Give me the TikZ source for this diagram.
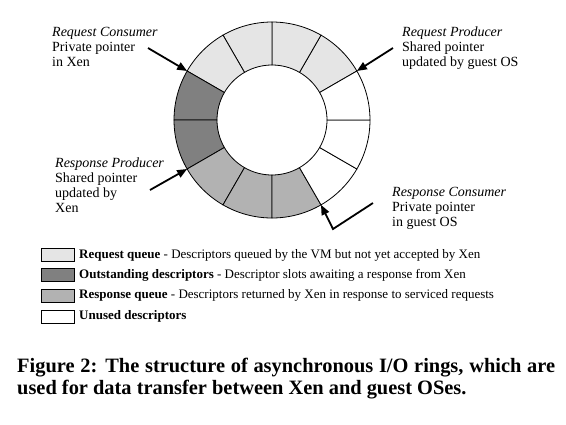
\documentclass[tikz,border=0pt]{standalone}
\usepackage{fontspec}
\setmainfont{Liberation Serif}
\usetikzlibrary{arrows.meta,calc}
\definecolor{reqc}{gray}{0.9}
\definecolor{outc}{gray}{0.5}
\definecolor{rspc}{gray}{0.7}
\begin{document}
\begin{tikzpicture}[x=1pt,y=1pt,
  lbl/.style={align=left, inner sep=0pt, anchor=north west, font=\fontsize{14}{15}\selectfont},
  ptr/.style={line width=1.8pt, -{Triangle[length=10pt,width=8pt]}},
  seg/.style={draw=black, line width=0.8pt},
  keybox/.style={draw=black, line width=0.8pt, minimum width=33pt, minimum height=13pt, inner sep=0pt},
  keytxt/.style={anchor=west, inner sep=0pt, font=\fontsize{13}{15}\selectfont}]
\useasboundingbox (0,0) rectangle (566,-424);
\coordinate (C) at (272,-120);
\foreach \a/\c in {30/reqc,60/reqc,90/reqc,120/reqc,150/outc,180/outc,210/rspc,240/rspc,270/rspc,300/white,330/white,0/white}
  \filldraw[seg, fill=\c] ([shift={(\a:98)}]C) arc[start angle=\a, delta angle=30, radius=98pt]
    -- ([shift={(\a+30:55)}]C) arc[start angle=\a+30, delta angle=-30, radius=55pt] -- cycle;
% pointer tips on the ring
\coordinate (rcTip) at ([shift={(150:98)}]C);
\coordinate (rpTip) at ([shift={(30:98)}]C);
\coordinate (spTip) at ([shift={(210:98)}]C);
\coordinate (scTip) at ([shift={(300:98)}]C);
\coordinate (rcStart) at (148,-48);
\coordinate (rpStart) at (393,-48);
\coordinate (spStart) at (150,-190);
\coordinate (scStart) at (373,-203);
\coordinate (scBend) at (333,-229);
\draw[ptr] (rcStart) -- (rcTip);
\draw[ptr] (rpStart) -- (rpTip);
\draw[ptr] (spStart) -- (spTip);
\draw[ptr] (scStart) -- (scBend) -- (scTip);
% labels
\node[lbl] (rcLbl) at (52,-27) {\textit{Request Consumer}\\Private pointer\\in Xen};
\node[lbl] (rpLbl) at (402,-27) {\textit{Request Producer}\\Shared pointer\\updated by guest OS};
\node[lbl] (spLbl) at (55,-158) {\textit{Response Producer}\\Shared pointer\\updated by\\Xen};
\node[lbl] (scLbl) at (392,-187) {\textit{Response Consumer}\\Private pointer\\in guest OS};
% legend
\node[keybox, fill=reqc] (k1) at (58,-255) {};
\node[keytxt] (t1) at (79,-255) {\textbf{Request queue} - Descriptors queued by the VM but not yet accepted by Xen};
\node[keybox, fill=outc] (k2) at (58,-275) {};
\node[keytxt] (t2) at (79,-275) {\textbf{Outstanding descriptors} - Descriptor slots awaiting a response from Xen};
\node[keybox, fill=rspc] (k3) at (58,-295.5) {};
\node[keytxt] (t3) at (79,-295.5) {\textbf{Response queue} - Descriptors returned by Xen in response to serviced requests};
\node[keybox, fill=white] (k4) at (58,-316.5) {};
\node[keytxt] (t4) at (79,-316.5) {\textbf{Unused descriptors}};
% caption
\node[anchor=north west, inner sep=0pt, text width=538pt, align=justify, font=\fontsize{20.4}{22}\selectfont\bfseries] (cap) at (17,-358) {Figure 2: The structure of asynchronous I/O rings, which are\linebreak used for data transfer between Xen and guest OSes.};
\end{tikzpicture}
\end{document}
